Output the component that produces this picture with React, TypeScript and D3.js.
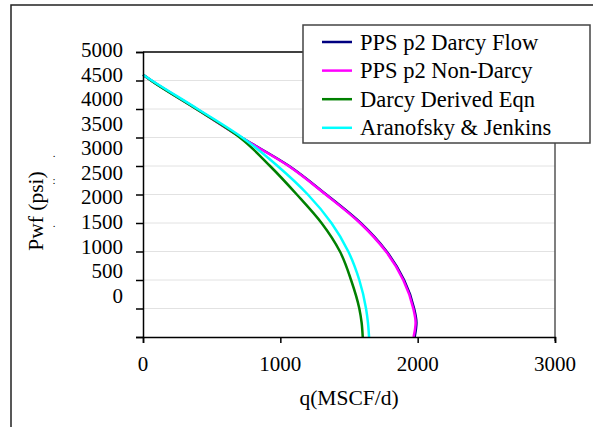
import React, { useEffect, useRef } from "react";
import * as d3 from "d3";

// Pwf (psi) levels, shared by all curves
const pressures = [4600, 4500, 4000, 3500, 3000, 2500, 2000, 1500, 1000, 500, 250, 0];
// q (MSCF/d) at those pressures
const darcyFlow = [0, 60, 392, 718, 1064, 1334, 1585, 1774, 1901, 1974, 1991, 1978];
const nonDarcy = [0, 60, 390, 715, 1060, 1330, 1580, 1769, 1895, 1968, 1985, 1970];
const darcyDerived = [0, 58, 388, 705, 925, 1120, 1300, 1434, 1515, 1575, 1592, 1600];
const aranofsky = [0, 64, 398, 722, 980, 1200, 1372, 1495, 1575, 1624, 1638, 1646];

const seriesNames = ["PPS p2 Darcy Flow", "PPS p2 Non-Darcy", "Darcy Derived Eqn", "Aranofsky & Jenkins"];
const seriesValues = [darcyFlow, nonDarcy, darcyDerived, aranofsky];
const seriesColors = ["#000080", "#ff00ff", "#008000", "#00ffff"];

const xTicks = [0, 1000, 2000, 3000];
const yTicks = [0, 500, 1000, 1500, 2000, 2500, 3000, 3500, 4000, 4500, 5000];

const W = 593;
const H = 427;
const plot = { left: 143, right: 555, top: 52, bottom: 337 };
const font = '"Liberation Serif", "Times New Roman", serif';

export default function App() {
  const xAxisRef = useRef<SVGGElement>(null);
  const yAxisRef = useRef<SVGGElement>(null);

  const x = d3.scaleLinear().domain([0, 3000]).range([plot.left, plot.right]);
  const y = d3.scaleLinear().domain([0, 5000]).range([plot.bottom, plot.top]);
  // the tick labels sit on a tighter spacing than the ticks in the original
  const yLabel = d3.scaleLinear().domain([0, 5000]).range([295.5, 50]);

  const line = d3
    .line<[number, number]>()
    .x((d) => x(d[0]))
    .y((d) => y(d[1]))
    .curve(d3.curveMonotoneY);

  useEffect(() => {
    const xa = d3.select(xAxisRef.current);
    xa.call(d3.axisBottom(x).tickValues(xTicks).tickSize(6).tickFormat(() => ""));
    xa.select(".domain").attr("stroke", "#000").attr("stroke-width", 1.5);
    xa.selectAll(".tick line").attr("stroke", "#000").attr("stroke-width", 1.5);

    const ya = d3.select(yAxisRef.current);
    ya.call(d3.axisLeft(y).tickValues(yTicks).tickSize(7).tickFormat(() => ""));
    ya.select(".domain").attr("stroke", "#000").attr("stroke-width", 1.5);
    ya.selectAll(".tick line").attr("stroke", "#000").attr("stroke-width", 1.5);
  }, []);

  return (
    <svg
      width={W}
      height={H}
      style={{ position: "absolute", left: 0, top: 0, background: "#fff", fontFamily: font }}
    >
      <rect width={W} height={H} fill="#fff" />
      {/* outer frame */}
      <path d={`M11,${H} L11,5 L${W},5`} fill="none" stroke="#222" strokeWidth={1.5} />

      {/* gridlines */}
      {yTicks.slice(1, -1).map((t) => (
        <line key={t} x1={plot.left} x2={plot.right} y1={y(t)} y2={y(t)} stroke="#e2e2e2" strokeWidth={1} />
      ))}
      <line x1={plot.left} x2={plot.right} y1={plot.top} y2={plot.top} stroke="#000" strokeWidth={1.5} />
      <line x1={plot.right} x2={plot.right} y1={plot.top} y2={plot.bottom + 4} stroke="#555" strokeWidth={1.5} />

      {seriesValues.map((vals, i) => (
        <path
          key={seriesNames[i]}
          d={line(vals.map((q, j) => [q, pressures[j]] as [number, number])) || ""}
          fill="none"
          stroke={seriesColors[i]}
          strokeWidth={2.5}
        />
      ))}

      <g ref={xAxisRef} transform={`translate(0,${plot.bottom})`} />
      <g ref={yAxisRef} transform={`translate(${plot.left},0)`} />

      {xTicks.map((t) => (
        <text key={t} x={x(t)} y={371} textAnchor="middle" fontSize={21} fontFamily={font}>
          {t}
        </text>
      ))}
      {yTicks.map((t) => (
        <text key={t} x={123} y={yLabel(t)} dy="0.34em" textAnchor="end" fontSize={21} fontFamily={font}>
          {t}
        </text>
      ))}

      <text x={(plot.left + plot.right) / 2} y={405} textAnchor="middle" fontSize={21.5} fontFamily={font}>
        q(MSCF/d)
      </text>
      <text transform="translate(43,211) rotate(-90)" textAnchor="middle" fontSize={21.5} fontFamily={font}>
        Pwf (psi)
      </text>
      <text x={54} y={157} textAnchor="middle" fontSize={11} fontFamily={font}>.</text>
      <text x={54} y={184} textAnchor="middle" fontSize={11} fontFamily={font}>:</text>
      <text x={54} y={227} textAnchor="middle" fontSize={11} fontFamily={font}>.</text>

      {/* legend */}
      <g>
        <rect x={303} y={25} width={287} height={118} fill="#fff" stroke="#444" strokeWidth={1.5} />
        {seriesNames.map((name, i) => (
          <g key={name} transform={`translate(0,${42 + i * 28.6})`}>
            <line x1={322} x2={352} y1={0} y2={0} stroke={seriesColors[i]} strokeWidth={2.5} />
            <text x={360} y={0} dy="0.34em" fontSize={22.5} fontFamily={font}>
              {name}
            </text>
          </g>
        ))}
      </g>
    </svg>
  );
}
